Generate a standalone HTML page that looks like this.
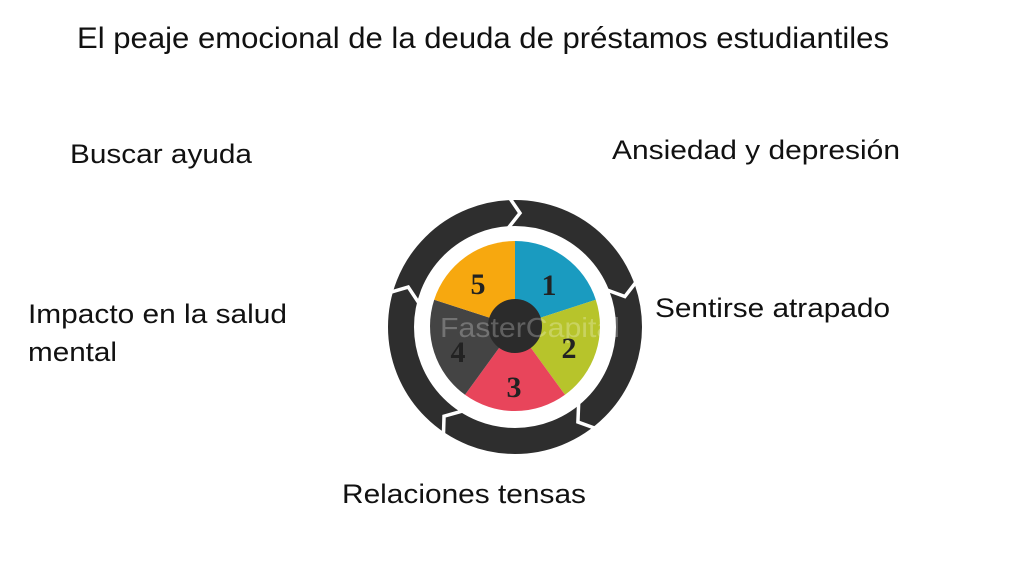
<!DOCTYPE html>
<html><head><meta charset="utf-8"><style>
html,body{margin:0;padding:0;background:#fff;}
svg{display:block;font-family:"Liberation Sans",sans-serif;}
</style></head><body>
<svg width="1024" height="576" viewBox="0 0 1024 576">
<rect width="1024" height="576" fill="#fff"/>
<text x="77" y="48" font-size="30" fill="#111" textLength="812" lengthAdjust="spacingAndGlyphs">El peaje emocional de la deuda de préstamos estudiantiles</text>
<text x="70" y="163" font-size="27" fill="#111" textLength="182" lengthAdjust="spacingAndGlyphs">Buscar ayuda</text>
<text x="612" y="159" font-size="27" fill="#111" textLength="288" lengthAdjust="spacingAndGlyphs">Ansiedad y depresión</text>
<text x="655" y="317" font-size="27" fill="#111" textLength="235" lengthAdjust="spacingAndGlyphs">Sentirse atrapado</text>
<text x="28" y="323" font-size="27" fill="#111" textLength="259" lengthAdjust="spacingAndGlyphs">Impacto en la salud</text>
<text x="28" y="361" font-size="27" fill="#111" textLength="89" lengthAdjust="spacingAndGlyphs">mental</text>
<text x="342" y="503" font-size="27" fill="#111" textLength="244" lengthAdjust="spacingAndGlyphs">Relaciones tensas</text>

<circle cx="515" cy="327" r="114" fill="none" stroke="#2e2e2e" stroke-width="26"/>
<g fill="none" stroke="#fff" stroke-width="3.5" stroke-linejoin="miter">
  <g transform="rotate(2 515 327)"><polyline points="505,198 516,213 505,228"/></g>
  <g transform="rotate(74 515 327)"><polyline points="505,198 516,213 505,228"/></g>
  <g transform="rotate(146 515 327)"><polyline points="505,198 516,213 505,228"/></g>
  <g transform="rotate(218 515 327)"><polyline points="505,198 516,213 505,228"/></g>
  <g transform="rotate(290 515 327)"><polyline points="505,198 516,213 505,228"/></g>
</g>

<path d="M515,326 L515,241 A85,85 0 0 1 595.8,299.7 Z" fill="#1a9bc0"/>
<path d="M515,326 L595.8,299.7 A85,85 0 0 1 565,394.8 Z" fill="#b7c42b"/>
<path d="M515,326 L565,394.8 A85,85 0 0 1 465,394.8 Z" fill="#e8455b"/>
<path d="M515,326 L465,394.8 A85,85 0 0 1 434.2,299.7 Z" fill="#444"/>
<path d="M515,326 L434.2,299.7 A85,85 0 0 1 515,241 Z" fill="#f7a80f"/>
<circle cx="515" cy="326" r="27" fill="#2b2b2b"/>
<text x="440" y="337" font-size="28" fill="#fff" fill-opacity="0.25" textLength="180" lengthAdjust="spacingAndGlyphs">FasterCapital</text>
<g font-family="Liberation Serif,serif" font-weight="bold" font-size="30" fill="#222" text-anchor="middle">
<text x="549" y="295">1</text>
<text x="569" y="358">2</text>
<text x="514" y="397">3</text>
<text x="458" y="362">4</text>
<text x="478" y="294">5</text>
</g>
</svg>
</body></html>
